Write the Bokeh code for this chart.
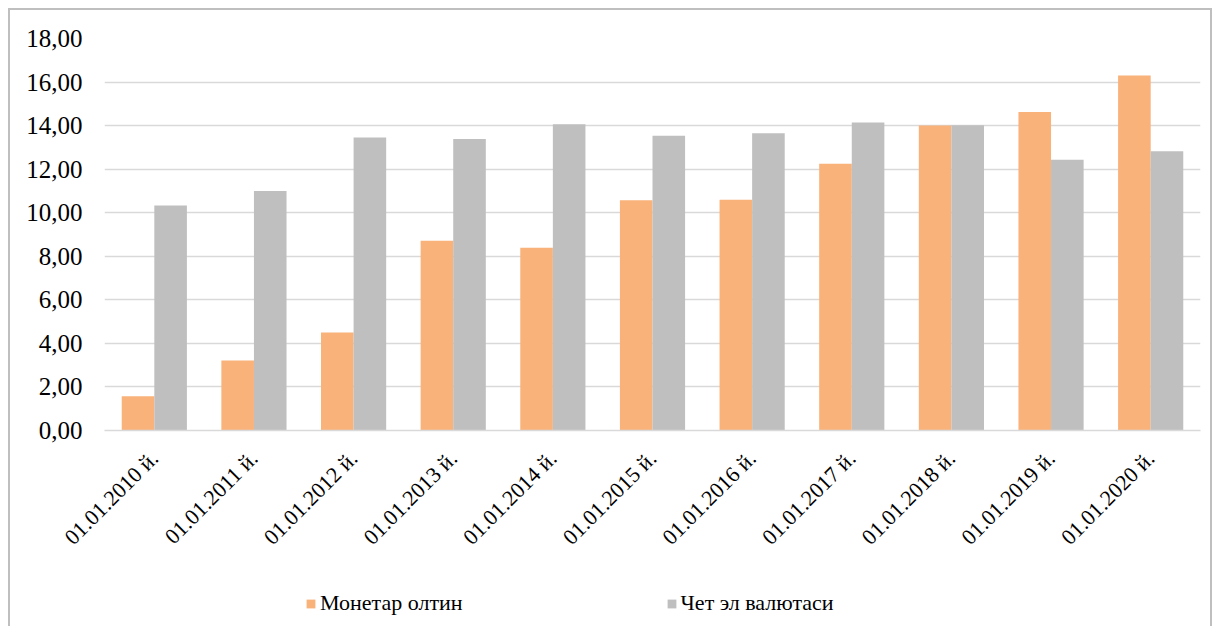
from bokeh.plotting import figure
from bokeh.layouts import column
from bokeh.models import (FactorRange, Range1d, FixedTicker, CustomJSTickFormatter,
                          ColumnDataSource, Legend, LegendItem)
from bokeh.transform import dodge
from bokeh.embed import file_html
from bokeh.resources import INLINE
import math

categories = ["01.01.2010 й.", "01.01.2011 й.", "01.01.2012 й.", "01.01.2013 й.",
              "01.01.2014 й.", "01.01.2015 й.", "01.01.2016 й.", "01.01.2017 й.",
              "01.01.2018 й.", "01.01.2019 й.", "01.01.2020 й."]
monetar_oltin = [1.57, 3.21, 4.50, 8.71, 8.39, 10.57, 10.60, 12.25, 14.00, 14.62, 16.30]
chet_el_valyutasi = [10.33, 11.00, 13.45, 13.39, 14.06, 13.54, 13.65, 14.14, 14.02, 12.43, 12.82]
series_names = ["Монетар олтин", "Чет эл валютаси"]
y_ticks = [0, 2, 4, 6, 8, 10, 12, 14, 16, 18]

SERIF = "Liberation Serif"
ORANGE = "#F8B27A"
GRAY = "#BFBFBF"

src = ColumnDataSource(dict(cat=categories, a=monetar_oltin, b=chet_el_valyutasi))

p = figure(width=1200, height=560, output_backend="svg", toolbar_location=None,
           x_range=FactorRange(*categories, range_padding=0),
           y_range=Range1d(0, 18))
p.min_border_left = 94
p.min_border_right = 10
p.min_border_top = 28
p.min_border_bottom = 140
p.outline_line_color = None
p.background_fill_color = "white"
p.border_fill_color = "white"

bw = 0.327
r1 = p.vbar(x=dodge("cat", -bw / 2, range=p.x_range), top="a", width=bw, source=src,
            fill_color=ORANGE, line_color=None)
r2 = p.vbar(x=dodge("cat", bw / 2, range=p.x_range), top="b", width=bw, source=src,
            fill_color=GRAY, line_color=None)

# grid
p.xgrid.grid_line_color = None
p.ygrid.grid_line_color = "#d9d9d9"
p.ygrid.grid_line_width = 1.3

# y axis
p.yaxis.ticker = FixedTicker(ticks=y_ticks)
p.yaxis.formatter = CustomJSTickFormatter(code="return tick.toFixed(2).replace('.', ',');")
p.yaxis.axis_line_color = None
p.yaxis.major_tick_line_color = None
p.yaxis.minor_tick_line_color = None
p.yaxis.major_label_text_font = SERIF
p.yaxis.major_label_text_font_size = "25px"
p.yaxis.major_label_text_color = "#000000"
p.yaxis.major_label_standoff = 16

# x axis
p.xaxis.axis_line_color = "#d9d9d9"
p.xaxis.axis_line_width = 1.3
p.xaxis.major_tick_line_color = None
p.xaxis.minor_tick_line_color = None
p.xaxis.major_label_orientation = math.pi / 4
p.xaxis.major_label_text_font = SERIF
p.xaxis.major_label_text_font_size = "22px"
p.xaxis.major_label_text_color = "#000000"
p.xaxis.major_label_standoff = 18

# legend strip below the chart (zero-size proxy glyphs only feed the legend)
lg = figure(width=1200, height=56, output_backend="svg", toolbar_location=None,
            x_range=Range1d(0, 1), y_range=Range1d(0, 1),
            min_border=0, min_border_left=0, min_border_right=0,
            min_border_top=0, min_border_bottom=0)
lg.axis.visible = False
lg.grid.visible = False
lg.outline_line_color = None
lg.border_fill_color = "white"
proxy = ColumnDataSource(dict(x=[0.5], top=[0]))
d1 = lg.vbar(x="x", top="top", width=0.0, source=proxy, fill_color=ORANGE, line_color=None)
d2 = lg.vbar(x="x", top="top", width=0.0, source=proxy, fill_color=GRAY, line_color=None)

legend = Legend(items=[LegendItem(label=series_names[0], renderers=[d1]),
                       LegendItem(label=series_names[1], renderers=[d2])],
                orientation="horizontal", location=(201, 10))
legend.border_line_color = None
legend.background_fill_alpha = 0
legend.padding = 0
legend.margin = 0
legend.spacing = 203
legend.glyph_width = 11
legend.glyph_height = 11
legend.label_standoff = 4
legend.label_text_font = SERIF
legend.label_text_font_size = "22px"
legend.label_text_color = "#000000"
lg.add_layout(legend, "center")

layout = column(p, lg, spacing=0)
layout.styles = {"margin-left": "8px", "margin-top": "8px",
                 "border-top": "2px solid #bfbfbf", "border-left": "2px solid #bfbfbf",
                 "border-right": "2px solid #bfbfbf"}

open("out.html", "w").write(file_html(layout, INLINE))
